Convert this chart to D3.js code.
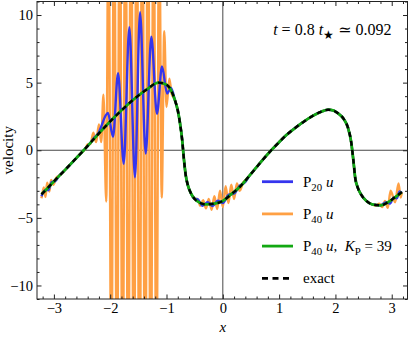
<!DOCTYPE html>
<html>
<head>
<meta charset="utf-8">
<script src="https://cdn.jsdelivr.net/npm/d3@7"></script>
<style>
body{margin:0;background:#fff;}
svg text{font-family:"Liberation Serif","DejaVu Serif",serif;white-space:pre;}
</style>
</head>
<body>
<div class="chart-container"></div>
<script>
//Data
//exact solution; the P40 u, K_P=39 curve lies on it at this scale
const exactX = [-3.22,-3.1,-3.0,-2.8,-2.6,-2.47,-2.2,-1.9,-1.6,-1.35,-1.14,-1.0,-0.92,-0.85,-0.8,-0.76,-0.72,-0.69,-0.66,-0.62,-0.57,-0.5,-0.4,-0.3,-0.15,0,0.15,0.3,0.47,0.56,0.7,0.86,1.0,1.15,1.3,1.45,1.6,1.75,1.87,1.97,2.04,2.15,2.22,2.28,2.32,2.35,2.4,2.46,2.55,2.65,2.8,2.95,3.05,3.18];
const exactY = [-3.26,-2.75,-2.3,-1.45,-0.57,0,1.25,2.55,3.7,4.5,5.0,4.85,4.45,3.7,2.95,2.0,0.7,-0.7,-1.8,-2.6,-3.15,-3.6,-3.9,-4.0,-3.95,-3.75,-3.25,-2.72,-1.9,-1.45,-0.75,0,0.6,1.2,1.7,2.15,2.55,2.85,3.0,2.93,2.75,2.3,1.7,0.6,-0.8,-2.0,-2.8,-3.3,-3.75,-4.0,-4.07,-3.8,-3.5,-3.09];

//P20 u
const p20X = [-3.22,-3.16,-3.1,-3.04,-2.98,-2.9,-2.8,-2.6,-2.47,-2.35,-2.28,-2.22,-2.04,-1.95,-1.86,-1.76,-1.66,-1.56,-1.47,-1.37,-1.27,-1.17,-1.08,-0.99,-0.92,-0.85,-0.8,-0.76,-0.72,-0.69,-0.66,-0.62,-0.57,-0.5,-0.45,-0.36,-0.27,-0.18,-0.09,0,0.1,0.2,0.3,0.4,0.47,0.56,0.7,0.86,1.0,1.15,1.3,1.45,1.6,1.75,1.87,1.97,2.04,2.15,2.22,2.28,2.32,2.35,2.4,2.46,2.55,2.65,2.8,2.9,2.97,3.03,3.09,3.14,3.18];
const p20Y = [-3.4,-2.95,-2.95,-2.35,-2.3,-1.85,-1.45,-0.57,0,0.55,0.95,1.2,2.75,1.0,5.7,-1.0,9.1,-2.0,10.2,-0.25,8.4,2.7,6.2,4.2,4.6,3.7,2.95,2.0,0.7,-0.7,-1.8,-2.6,-3.15,-3.6,-3.62,-4.1,-3.85,-4.12,-3.73,-3.9,-3.3,-3.2,-2.62,-2.35,-1.9,-1.45,-0.75,0,0.6,1.2,1.7,2.15,2.55,2.85,3.0,2.93,2.75,2.3,1.7,0.6,-0.8,-2.0,-2.8,-3.3,-3.75,-4.0,-4.07,-3.85,-3.95,-3.5,-3.55,-3.05,-3.15];

//P40 u (extremes in the middle run far past the frame)
const p40X = [-3.22,-3.18,-3.15,-3.12,-3.08,-3.05,-3.01,-2.96,-2.9,-2.8,-2.7,-2.6,-2.5,-2.45,-2.4,-2.35,-2.3,-2.25,-2.2,-2.16,-2.12,-2.07,
  -2.03,-1.98,-1.93,-1.88,-1.83,-1.78,-1.73,-1.68,-1.63,-1.58,-1.53,-1.48,-1.43,-1.38,-1.33,-1.28,-1.23,-1.18,-1.13,
  -1.085,-1.04,-1.0,-0.95,-0.91,-0.85,-0.8,-0.76,-0.72,-0.69,-0.66,-0.62,-0.57,-0.5,-0.45,-0.4,-0.35,-0.3,-0.25,-0.2,-0.15,-0.1,-0.05,0,0.05,0.1,0.15,0.2,0.25,0.3,0.36,0.42,0.47,0.56,0.7,0.86,1.0,1.15,1.3,1.45,1.6,1.75,1.87,1.97,2.04,2.15,2.22,2.28,2.32,2.35,2.4,2.46,2.55,2.65,2.72,2.78,2.83,2.88,2.93,2.98,3.06,3.12,3.16,3.18];
const p40Y = [-3.55,-2.75,-3.45,-2.4,-3.05,-2.2,-2.55,-2.05,-1.85,-1.45,-1.0,-0.57,-0.13,0.05,0.45,0.45,1.3,0.6,1.9,0.6,4.1,-3.8,
  19,-19,21,-21,23,-23,24,-24,25,-25,25,-25,24,-24,23,-22,21,-19,18,
  -3.5,8.8,3.2,5.3,4.2,3.7,2.95,2.0,0.7,-0.7,-1.8,-2.6,-3.15,-3.6,-3.6,-4.1,-3.7,-4.3,-3.6,-4.4,-3.4,-4.35,-3.0,-4.2,-2.65,-3.9,-2.55,-3.6,-2.45,-3.0,-2.4,-2.15,-1.9,-1.45,-0.75,0,0.6,1.2,1.7,2.15,2.55,2.85,3.0,2.93,2.75,2.3,1.7,0.6,-0.8,-2.0,-2.8,-3.3,-3.75,-4.0,-4.1,-3.95,-4.2,-3.75,-4.25,-3.0,-3.85,-2.45,-3.5,-3.1];

//ticks
const xTicks = [-3,-2,-1,0,1,2,3];
const yTicks = [-10,-5,0,5,10];

const legendLabels = [
    [['P',''],['20','s'],[' u','i']],
    [['P',''],['40','s'],[' u','i']],
    [['P',''],['40','s'],[' u','i'],[',  ',''],['K','i'],['P','s'],[' = 39','']],
    [['exact','']]
];

const COLORS = {p20:'#3535ee', p40:'#ffa044', kp:'#12a812', exact:'#000'};

//rich text: '' normal, 'i' italic, 's' subscript
function richText(sel, parts){
    let shift = 0;
    parts.forEach(([str, kind]) => {
        const ts = sel.append('tspan').text(str);
        const target = kind == 's' ? 4 : 0;
        ts.attr('dy', target - shift);
        shift = target;
        if(kind == 's') ts.style('font-size','0.72em');
        if(kind == 'i') ts.style('font-style','italic');
    });
}

function setupCanvas(){
    const svg_width = 411;
    const svg_height = 337;
    const chart_margin = {top:1.5, right:3.5, bottom:38, left:37};
    const chart_width = svg_width - (chart_margin.left + chart_margin.right);
    const chart_height = svg_height - (chart_margin.top + chart_margin.bottom);

    const svg = d3.select('.chart-container').append('svg')
        .attr('width', svg_width).attr('height', svg_height);
    const this_svg = svg.append('g')
        .attr('transform', `translate(${chart_margin.left}, ${chart_margin.top})`);

    //scale
    const xScale = d3.scaleLinear([-3.3, 3.28], [0, chart_width]);
    const yScale = d3.scaleLinear([-11, 11], [chart_height, 0]);

    svg.append('defs').append('clipPath').attr('id','plot-clip')
        .append('rect').attr('width', chart_width).attr('height', chart_height);

    //zero lines
    this_svg.append('line').attr('x1',0).attr('x2',chart_width)
        .attr('y1',yScale(0)).attr('y2',yScale(0))
        .style('stroke','#333').style('stroke-width',0.9);
    this_svg.append('line').attr('y1',0).attr('y2',chart_height)
        .attr('x1',xScale(0)).attr('x2',xScale(0))
        .style('stroke','#333').style('stroke-width',0.9);

    //curves
    const line = d3.line().x(d=>xScale(d[0])).y(d=>yScale(d[1])).curve(d3.curveMonotoneX);
    const plot = this_svg.append('g').attr('clip-path','url(#plot-clip)');
    const series = [
        {xs:p40X, ys:p40Y, color:COLORS.p40, w:2.4},
        {xs:p20X, ys:p20Y, color:COLORS.p20, w:2.4},
        {xs:exactX, ys:exactY, color:COLORS.kp, w:2.8},
        {xs:exactX, ys:exactY, color:COLORS.exact, w:2.4, dash:'5,4'}
    ];
    series.forEach(s => {
        plot.append('path').datum(d3.zip(s.xs, s.ys))
            .attr('d', line)
            .style('fill','none').style('stroke', s.color)
            .style('stroke-width', s.w)
            .style('stroke-dasharray', s.dash || null);
    });

    //axes, ticks pointing inward on all four sides
    const xMinor = d3.range(-3.2, 3.21, 0.2).filter(v => Math.abs(v - Math.round(v)) > 0.01);
    const yMinor = d3.range(-11, 11.1, 1).filter(v => v % 5 != 0);
    const tickFont = g => g.selectAll('text').style('font-size','14.5px').style('fill','#000')
        .style('font-family','"Liberation Serif",serif');
    const clean = g => { g.select('.domain').remove(); g.selectAll('line').style('stroke','#222'); };

    this_svg.append('g').attr('transform',`translate(0,${chart_height})`)
        .call(d3.axisBottom(xScale).tickValues(xTicks).tickSize(-4.5).tickPadding(4)
            .tickFormat(d3.format('d')))
        .call(clean).call(tickFont);
    this_svg.append('g').attr('transform',`translate(0,${chart_height})`)
        .call(d3.axisBottom(xScale).tickValues(xMinor).tickSize(-2.5).tickFormat(''))
        .call(clean);
    this_svg.append('g')
        .call(d3.axisTop(xScale).tickValues(xTicks).tickSize(-4.5).tickFormat(''))
        .call(clean);
    this_svg.append('g')
        .call(d3.axisTop(xScale).tickValues(xMinor).tickSize(-2.5).tickFormat(''))
        .call(clean);
    this_svg.append('g')
        .call(d3.axisLeft(yScale).tickValues(yTicks).tickSize(-4.5).tickPadding(4)
            .tickFormat(d3.format('d')))
        .call(clean).call(tickFont);
    this_svg.append('g')
        .call(d3.axisLeft(yScale).tickValues(yMinor).tickSize(-2.5).tickFormat(''))
        .call(clean);
    this_svg.append('g').attr('transform',`translate(${chart_width},0)`)
        .call(d3.axisRight(yScale).tickValues(yTicks).tickSize(-4.5).tickFormat(''))
        .call(clean);
    this_svg.append('g').attr('transform',`translate(${chart_width},0)`)
        .call(d3.axisRight(yScale).tickValues(yMinor).tickSize(-2.5).tickFormat(''))
        .call(clean);

    //frame
    this_svg.append('rect').attr('width',chart_width).attr('height',chart_height)
        .style('fill','none').style('stroke','#222').style('stroke-width',1);

    //axis titles
    this_svg.append('text').text('x')
        .attr('x', xScale(0)).attr('y', chart_height + 33)
        .attr('text-anchor','middle').style('font-style','italic').style('font-size','15px');
    this_svg.append('text').text('velocity')
        .attr('transform',`translate(${-24.5},${chart_height/2}) rotate(-90)`)
        .attr('text-anchor','middle').style('font-size','15px');

    //annotation
    const note = this_svg.append('text')
        .attr('x', chart_width - 16).attr('y', 33.5)
        .attr('text-anchor','end').style('font-size','16px');
    richText(note, [['t','i'],[' = 0.8 ',''],['t','i'],['★','s'],[' ≃ 0.092','']]);

    //legend
    const legendColors = [COLORS.p20, COLORS.p40, COLORS.kp, COLORS.exact];
    const legend = this_svg.append('g').attr('class','legend')
        .attr('transform',`translate(${225},${180.2})`);
    legendLabels.forEach((parts, i) => {
        const row = legend.append('g').attr('transform',`translate(0,${i*32.2})`);
        row.append('line').attr('x1',0).attr('x2',31)
            .style('stroke', legendColors[i]).style('stroke-width',2.8)
            .style('stroke-dasharray', i == 3 ? '6,4.5' : null);
        const t = row.append('text').attr('x',41).attr('y',5).style('font-size','15px');
        richText(t, parts);
    });
}

setupCanvas();
</script>
</body>
</html>
